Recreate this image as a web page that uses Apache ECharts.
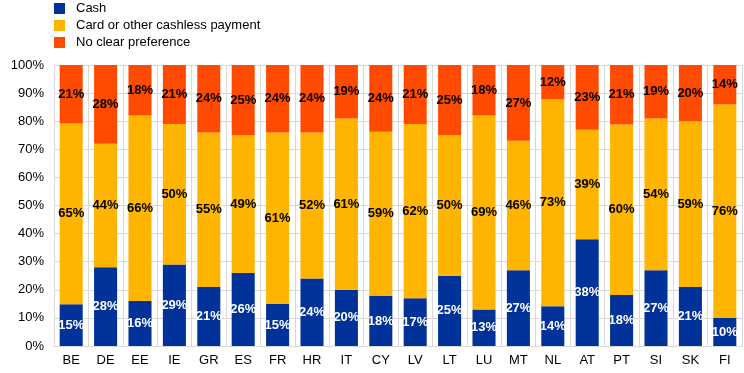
<!DOCTYPE html>
<html><head><meta charset="utf-8">
<script src="https://cdn.jsdelivr.net/npm/echarts@6/dist/echarts.min.js"></script>
<style>html,body{margin:0;padding:0;background:#fff}#c{width:744px;height:373px}</style>
</head><body><div id="c"></div>
<script>
var categories = ["BE","DE","EE","IE","GR","ES","FR","HR","IT","CY","LV","LT","LU","MT","NL","AT","PT","SI","SK","FI"];
var cash = [15,28,16,29,21,26,15,24,20,18,17,25,13,27,14,38,18,27,21,10];
var card = [65,44,66,50,55,49,61,52,61,59,62,50,69,46,73,39,60,54,59,76];
var noPref = [21,28,18,21,24,25,24,24,19,24,21,25,18,27,12,23,21,19,20,14];
var yTicks = [0,10,20,30,40,50,60,70,80,90,100];

var sums = categories.map(function(_, i){ return cash[i] + card[i] + noPref[i]; });
function pct(arr){ return arr.map(function(v, i){ return { value: v / sums[i] * 100, raw: v }; }); }

var chart = echarts.init(document.getElementById('c'));
var font = 'Liberation Sans, Arial, sans-serif';
function series(name, arr, color, labelColor){
  return {
    name: name, type: 'bar', stack: 'total', data: pct(arr),
    itemStyle: { color: color },
    barCategoryGap: '33%',
    label: { show: true, position: 'inside', color: labelColor, fontWeight: 'bold', fontSize: 13, fontFamily: font,
      formatter: function(p){ return p.data.raw + '%'; } }
  };
}
chart.setOption({
  animation: false,
  textStyle: { fontFamily: font },
  legend: {
    orient: 'vertical', left: 54, top: 2, padding: 0, itemWidth: 11, itemHeight: 11, itemGap: 4,
    icon: 'rect', textStyle: { fontSize: 13, color: '#000', fontFamily: font, padding: [0, 0, 0, 6] },
    data: ['Cash', 'Card or other cashless payment', 'No clear preference']
  },
  grid: { left: 54, right: 2, top: 65, bottom: 27, containLabel: false },
  xAxis: {
    type: 'category', data: categories,
    axisLine: { lineStyle: { color: '#d9d9d9' } },
    axisTick: { show: false },
    splitLine: { show: true, lineStyle: { color: '#d9d9d9' } },
    axisLabel: { color: '#000', fontSize: 13, margin: 8, fontFamily: font }
  },
  yAxis: {
    type: 'value', min: 0, max: 100, interval: 10,
    axisLine: { show: true, lineStyle: { color: '#d9d9d9' } },
    splitLine: { lineStyle: { color: '#d9d9d9' } },
    axisLabel: { color: '#000', fontSize: 13, margin: 10, fontFamily: font,
      formatter: function(v){ return yTicks.indexOf(v) >= 0 ? v + '%' : ''; } }
  },
  series: [
    series('Cash', cash, '#003299', '#fff'),
    series('Card or other cashless payment', card, '#FFB400', '#000'),
    series('No clear preference', noPref, '#FF4B00', '#000')
  ]
});
</script></body></html>
